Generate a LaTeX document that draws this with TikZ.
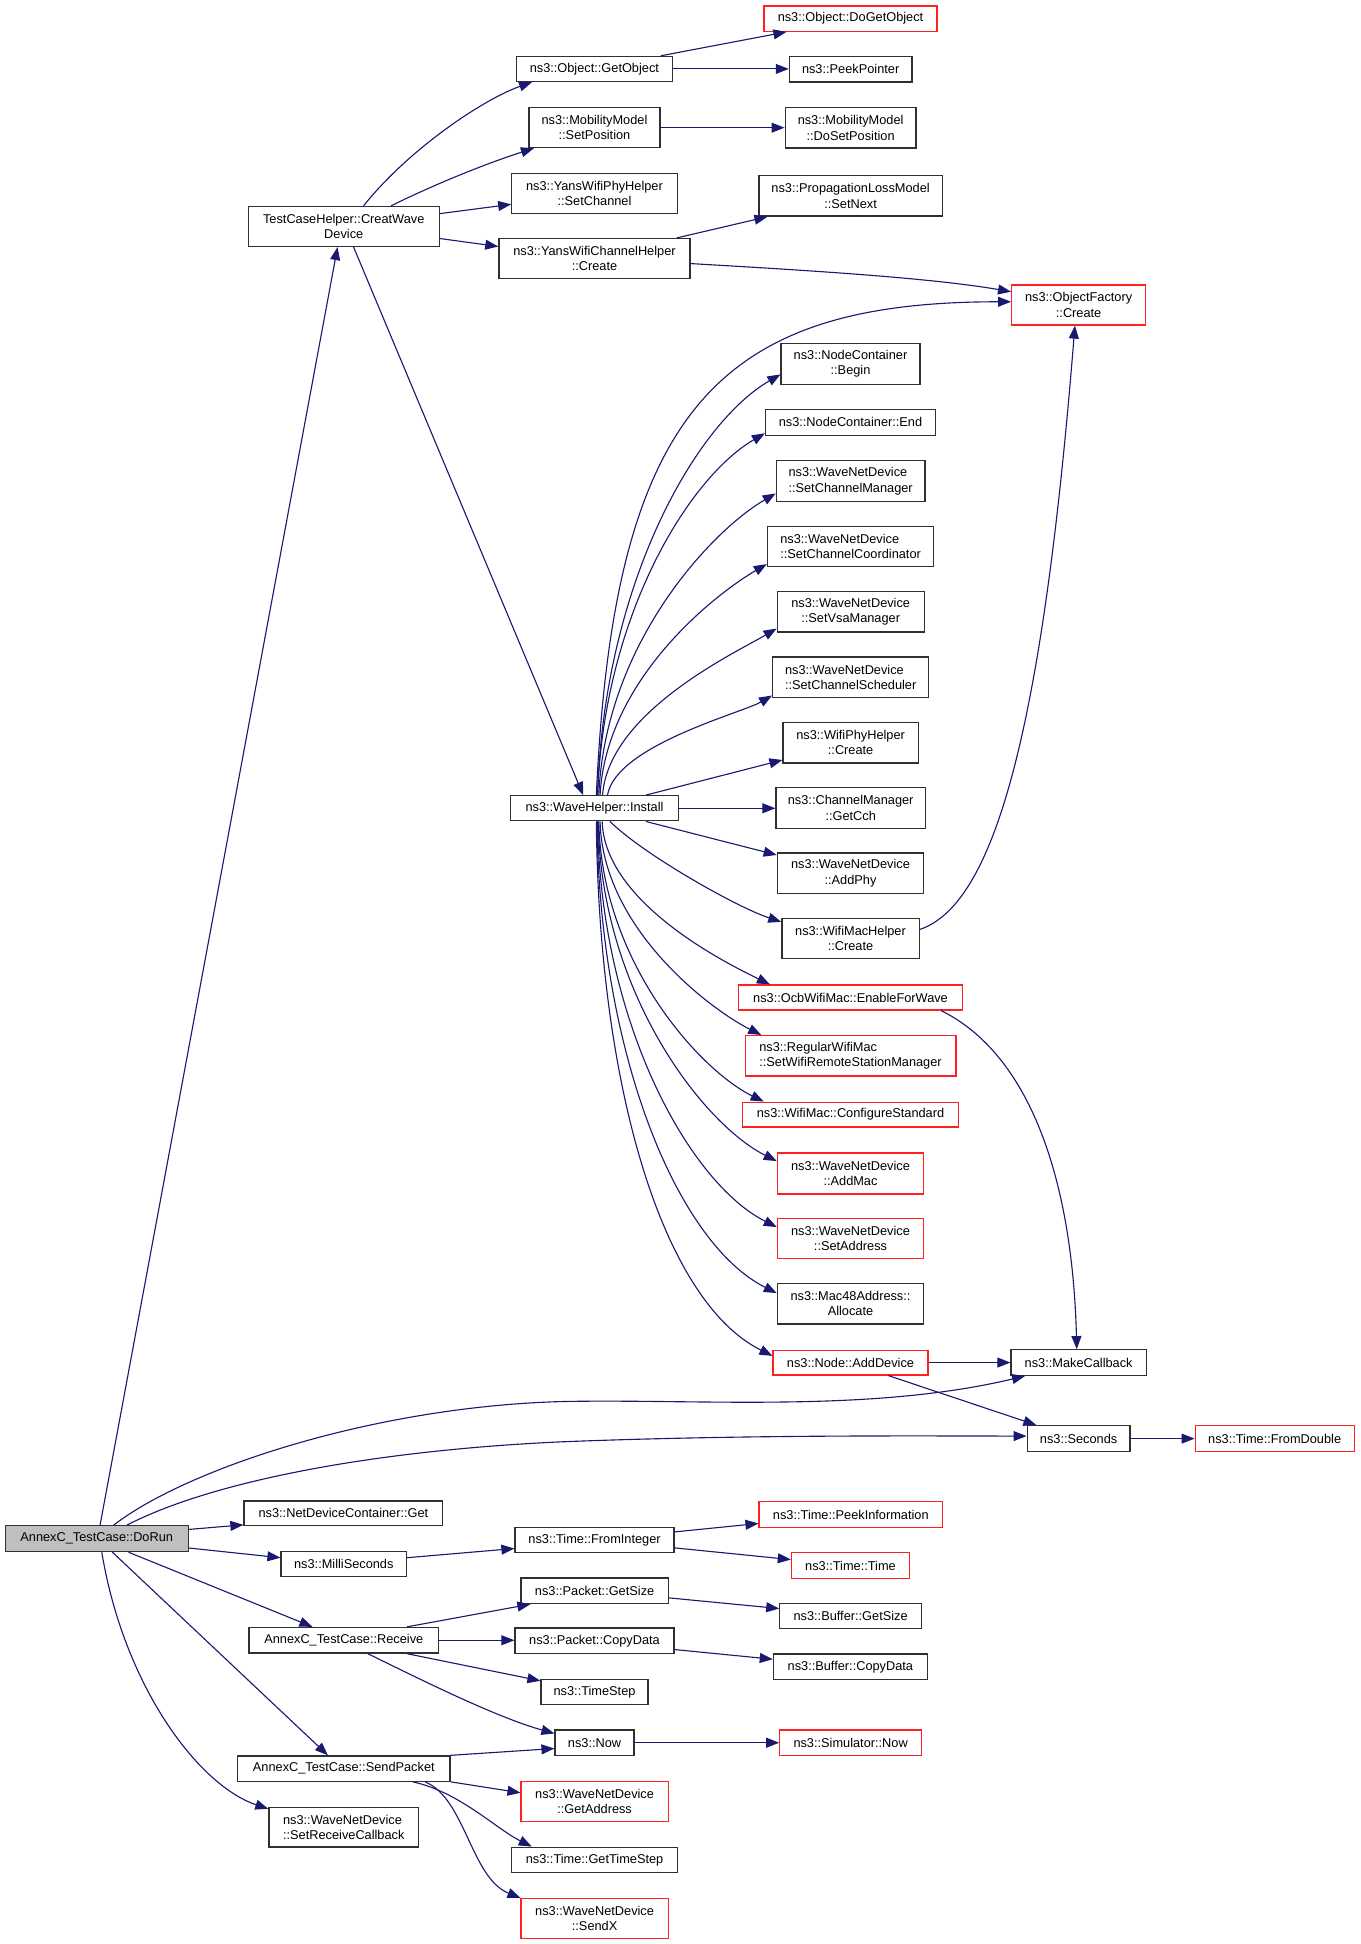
\documentclass[tikz,border=0pt]{standalone}
\usepackage{fontspec}
\setmainfont{Liberation Sans}
\usetikzlibrary{arrows.meta}
\definecolor{mblue}{HTML}{191970}
\definecolor{nred}{HTML}{FF2020}
\definecolor{nblk}{HTML}{303030}
\definecolor{dfill}{HTML}{BFBFBF}
\newcommand\mybox[6]{\node[#1,minimum width=#4pt,minimum height=#5pt] (#2) at (#3) {#6};}
\begin{document}
\begin{tikzpicture}[x=1pt,y=-1pt,
  nb/.style={rectangle,draw=nblk,line width=1pt,inner sep=0pt,align=center,font=\fontsize{10.3}{12.2}\selectfont},
  nr/.style={nb,draw=nred},
  ng/.style={nb,fill=dfill},
  ed/.style={draw=mblue,line width=0.9pt,-{Triangle[length=10.5pt,width=8pt]}}]
\fill[white] (0,0) rectangle (1097,1568);
\useasboundingbox (0,0) rectangle (1097,1568);
% column 1
\mybox{ng}{dorun}{78,1241.1}{147.5}{20.8}{AnnexC\_TestCase::DoRun}
\mybox{nb}{creat}{277.25,182.65}{154.1}{32.3}{TestCaseHelper::CreatWave\\Device}
\mybox{nb}{ndcget}{277,1220.65}{160.4}{20.1}{ns3::NetDeviceContainer::Get}
\mybox{nb}{milli}{277.3,1261.6}{101.2}{20.2}{ns3::MilliSeconds}
\mybox{nb}{receive}{277.3,1323}{153}{20.7}{AnnexC\_TestCase::Receive}
\mybox{nb}{sendpkt}{277.3,1426.5}{171.4}{20.4}{AnnexC\_TestCase::SendPacket}
\mybox{nb,align=left}{setrecv}{277.3,1473.9}{120.8}{31.8}{ns3::WaveNetDevice\\::SetReceiveCallback}
% column 2
\mybox{nb}{getobj}{479.4,55.6}{125.6}{20.2}{ns3::Object::GetObject}
\mybox{nb}{setpos}{479.5,103}{105.8}{32}{ns3::MobilityModel\\::SetPosition}
\mybox{nb}{setchan}{479.5,155.85}{133.4}{32.3}{ns3::YansWifiPhyHelper\\::SetChannel}
\mybox{nb}{ywch}{479.5,208.4}{154.2}{32}{ns3::YansWifiChannelHelper\\::Create}
\mybox{nb}{install}{479.5,651.95}{135}{20.3}{ns3::WaveHelper::Install}
\mybox{nb}{fromint}{479.55,1242.25}{128.3}{20.5}{ns3::Time::FromInteger}
\mybox{nb}{pgetsize}{479.6,1283.05}{118.6}{20.7}{ns3::Packet::GetSize}
\mybox{nb}{pcopy}{479.55,1323.5}{128.3}{20.7}{ns3::Packet::CopyData}
\mybox{nb}{timestep}{479.55,1364.75}{86.3}{20.7}{ns3::TimeStep}
\mybox{nb}{now}{479.55,1405.65}{63.7}{20.7}{ns3::Now}
\mybox{nr}{getaddr}{479.6,1452.85}{118.6}{32.3}{ns3::WaveNetDevice\\::GetAddress}
\mybox{nb}{gettimestep}{479.55,1500.25}{133.7}{20.7}{ns3::Time::GetTimeStep}
\mybox{nr}{sendx}{479.6,1547.45}{118.6}{32.3}{ns3::WaveNetDevice\\::SendX}
% column 3
\mybox{nr}{dogetobj}{686,15}{139.5}{20.5}{ns3::Object::DoGetObject}
\mybox{nb}{peekptr}{686.1,55.95}{98.8}{20.5}{ns3::PeekPointer}
\mybox{nb}{dosetpos}{686.1,103.15}{105.6}{32.5}{ns3::MobilityModel\\::DoSetPosition}
\mybox{nb}{setnext}{686.1,158}{147.8}{32.6}{ns3::PropagationLossModel\\::SetNext}
\mybox{nb}{ncbegin}{686,293.6}{112}{32.6}{ns3::NodeContainer\\::Begin}
\mybox{nb}{ncend}{686,340.6}{137.1}{20.8}{ns3::NodeContainer::End}
\mybox{nb,align=left}{setchmgr}{686.1,388.1}{119.8}{33}{ns3::WaveNetDevice\\::SetChannelManager}
\mybox{nb,align=left}{setchcoord}{686.1,440.75}{134.2}{32.3}{ns3::WaveNetDevice\\::SetChannelCoordinator}
\mybox{nb}{setvsa}{686.15,493.35}{118.5}{32.9}{ns3::WaveNetDevice\\::SetVsaManager}
\mybox{nb,align=left}{setchsched}{686.15,546.15}{125.9}{32.5}{ns3::WaveNetDevice\\::SetChannelScheduler}
\mybox{nb}{wphycreate}{686.1,599.1}{109}{32.6}{ns3::WifiPhyHelper\\::Create}
\mybox{nb}{getcch}{686.15,651.7}{120.5}{32.6}{ns3::ChannelManager\\::GetCch}
\mybox{nb}{addphy}{686,704.25}{118.1}{32.5}{ns3::WaveNetDevice\\::AddPhy}
\mybox{nb}{wmaccreate}{686,756.95}{110.7}{32.1}{ns3::WifiMacHelper\\::Create}
\mybox{nr}{enablewave}{686,804.55}{180.6}{20.1}{ns3::OcbWifiMac::EnableForWave}
\mybox{nr,align=left}{regmac}{686,851.6}{170}{32.6}{ns3::RegularWifiMac\\::SetWifiRemoteStationManager}
\mybox{nr}{confstd}{686,899}{174}{20}{ns3::WifiMac::ConfigureStandard}
\mybox{nr}{addmac}{686,946.5}{118}{33}{ns3::WaveNetDevice\\::AddMac}
\mybox{nr}{setaddr}{686,999}{118}{32}{ns3::WaveNetDevice\\::SetAddress}
\mybox{nb}{mac48}{686,1051.5}{118}{33}{ns3::Mac48Address::\\Allocate}
\mybox{nr}{adddev}{686,1099}{125}{20}{ns3::Node::AddDevice}
\mybox{nr}{peekinfo}{686.25,1221.65}{148}{20.7}{ns3::Time::PeekInformation}
\mybox{nr}{timetime}{686,1262.75}{95.3}{20.5}{ns3::Time::Time}
\mybox{nb}{bgetsize}{686.1,1303.45}{114.2}{20.7}{ns3::Buffer::GetSize}
\mybox{nb}{bcopy}{685.9,1344.35}{124.2}{20.7}{ns3::Buffer::CopyData}
\mybox{nr}{simnow}{686.1,1405.65}{114.2}{20.7}{ns3::Simulator::Now}
% column 4/5
\mybox{nr}{ofcreate}{870,246}{108}{32.3}{ns3::ObjectFactory\\::Create}
\mybox{nb}{makecb}{870,1099}{109}{20.7}{ns3::MakeCallback}
\mybox{nb}{seconds}{870,1160.35}{83}{20.7}{ns3::Seconds}
\mybox{nr}{fromdouble}{1028.1,1160.35}{128.2}{20.7}{ns3::Time::FromDouble}
% edges
\draw[ed] ([xshift=2.7pt]dorun.north) -- ([xshift=-5pt]creat.south);
\draw[ed] ([xshift=16pt]creat.north) .. controls (330,120) and (390,80) .. ([xshift=-50.2pt]getobj.south);
\draw[ed] ([xshift=38.2pt]creat.north) .. controls (352,148) and (392,132) .. ([xshift=-48.8pt]setpos.south);
\draw[ed] ([yshift=10.35pt]creat.east) -- ([yshift=-8.95pt]setchan.west);
\draw[ed] ([yshift=-9.75pt]creat.east) -- ([yshift=9.6pt]ywch.west);
\draw[ed] ([xshift=7.95pt]creat.south) -- ([xshift=-9.1pt]install.north);
\draw[ed] ([xshift=53.6pt]getobj.north) -- ([xshift=-51.7pt]dogetobj.south);
\draw[ed] (getobj.east) -- (getobj.east -| peekptr.west);
\draw[ed] (setpos.east) -- (setpos.east -| dosetpos.west);
\draw[ed] ([xshift=66.4pt]ywch.north) -- ([xshift=-67.1pt]setnext.south);
\draw[ed] ([yshift=-4.2pt]ywch.east) .. controls (650,218) and (750,224) .. ([yshift=10.7pt]ofcreate.west);
\draw[ed] ([xshift=1.5pt]install.north) .. controls (495,330) and (580,243.4) .. ([yshift=2.6pt]ofcreate.west);
\draw[ed] ([xshift=2.5pt]install.north) .. controls (487,471.75) and (560.5,342) .. ([yshift=-8.4pt]ncbegin.west);
\draw[ed] ([xshift=2.5pt]install.north) .. controls (487,495.5) and (556.2,384.7) .. ([yshift=-8.9pt]ncend.west);
\draw[ed] ([xshift=3.5pt]install.north) .. controls (488,519.75) and (573.4,428.4) .. ([yshift=-9.9pt]setchmgr.west);
\draw[ed] ([xshift=4.5pt]install.north) .. controls (489,548.25) and (576.1,479.65) .. ([yshift=-14.25pt]setchcoord.west);
\draw[ed] ([xshift=6.5pt]install.north) .. controls (491,574.25) and (593.2,526.45) .. ([yshift=-13.65pt]setvsa.west);
\draw[ed] ([xshift=10.5pt]install.north) .. controls (497,601.25) and (598.6,575) .. ([yshift=-14.85pt]setchsched.west);
\draw[ed] ([xshift=41.5pt]install.north) -- ([yshift=-13.9pt]wphycreate.west);
\draw[ed] (install.east) -- (install.east -| getcch.west);
\draw[ed] ([xshift=41.5pt]install.south) -- ([yshift=14.65pt]addphy.west);
\draw[ed] ([xshift=12.5pt]install.south) .. controls (520,690) and (595,732) .. ([yshift=13.35pt]wmaccreate.west);
\draw[ed] ([xshift=6.2pt]install.south) .. controls (487.7,728.25) and (586.35,777.2) .. ([xshift=-65pt]enablewave.north);
\draw[ed] ([xshift=4.5pt]install.south) .. controls (486,748.3) and (572.1,813.7) .. ([xshift=-72pt]regmac.north);
\draw[ed] ([xshift=3.5pt]install.south) .. controls (485,775.5) and (564.3,863.2) .. ([xshift=-70pt]confstd.north);
\draw[ed] ([xshift=3pt]install.south) .. controls (484.5,799.25) and (566.3,906.4) .. ([yshift=10pt]addmac.west);
\draw[ed] ([xshift=2.5pt]install.south) .. controls (484,825.85) and (556.7,954.8) .. ([yshift=9.3pt]setaddr.west);
\draw[ed] ([xshift=2pt]install.south) .. controls (483.5,852.5) and (547.1,1003.3) .. ([yshift=8.5pt]mac48.west);
\draw[ed] ([xshift=1.5pt]install.south) .. controls (483,877.8) and (534.5,1049.4) .. ([yshift=5.4pt]adddev.west);
\draw[ed] ([yshift=7.25pt]wmaccreate.east) .. controls (800,730) and (840,600) .. ([xshift=-3pt]ofcreate.south);
\draw[ed] ([xshift=73pt]enablewave.south) .. controls (830,850) and (865,950) .. ([xshift=-1.5pt]makecb.north);
\draw[ed] (adddev.east) -- (adddev.east -| makecb.west);
\draw[ed] ([xshift=30.5pt]adddev.south) -- ([xshift=-34pt]seconds.north);
\draw[ed] ([xshift=13.6pt]dorun.north) .. controls (150,1185) and (300,1135) .. (451.7,1130.5) .. controls (560,1128) and (700,1140) .. ([xshift=-43.2pt]makecb.south);
\draw[ed] ([xshift=24.3pt]dorun.north) .. controls (170,1195) and (300,1170) .. (451.7,1163) .. controls (600,1157) and (750,1158.3) .. ([yshift=2.05pt]seconds.west);
\draw[ed] (seconds.east) -- (fromdouble.west);
\draw[ed] ([yshift=7.5pt]dorun.east) -- ([yshift=-9.25pt]ndcget.west);
\draw[ed] ([yshift=-7.5pt]dorun.east) -- ([yshift=5.2pt]milli.west);
\draw[ed] ([xshift=25.7pt]dorun.south) -- ([xshift=-25.3pt]receive.north);
\draw[ed] ([xshift=12.7pt]dorun.south) -- ([xshift=-12.8pt]sendpkt.north);
\draw[ed] ([xshift=4.1pt]dorun.south) .. controls (100,1360) and (160,1440) .. ([yshift=14.9pt]setrecv.west);
\draw[ed] ([yshift=5.2pt]milli.east) -- ([yshift=-6.75pt]fromint.west);
\draw[ed] ([yshift=6.65pt]fromint.east) -- ([yshift=-7.15pt]peekinfo.west);
\draw[ed] ([yshift=-6.25pt]fromint.east) -- ([yshift=4.85pt]timetime.west);
\draw[ed] ([xshift=51.1pt]receive.north) -- ([xshift=-51.8pt]pgetsize.south);
\draw[ed] (receive.east) -- (receive.east -| pcopy.west);
\draw[ed] ([yshift=-5.75pt]pgetsize.east) -- ([yshift=6.05pt]bgetsize.west);
\draw[ed] ([yshift=-7pt]pcopy.east) -- ([yshift=6.05pt]bcopy.west);
\draw[ed] ([xshift=51.1pt]receive.south) -- ([yshift=9.05pt]timestep.west);
\draw[ed] ([xshift=19.4pt]receive.south) .. controls (340,1355) and (400,1385) .. ([yshift=7.45pt]now.west);
\draw[ed] (sendpkt.north east) -- ([yshift=-4.65pt]now.west);
\draw[ed] (sendpkt.south east) -- ([yshift=6.85pt]getaddr.west);
\draw[ed] ([xshift=55.5pt]sendpkt.south) .. controls (370,1445) and (400,1475) .. ([xshift=-50.65pt]gettimestep.north);
\draw[ed] ([xshift=65.5pt]sendpkt.south) .. controls (375,1450) and (380,1515) .. (sendx.north west);
\draw[ed] (now.east) -- (simnow.west);
\end{tikzpicture}
\end{document}
